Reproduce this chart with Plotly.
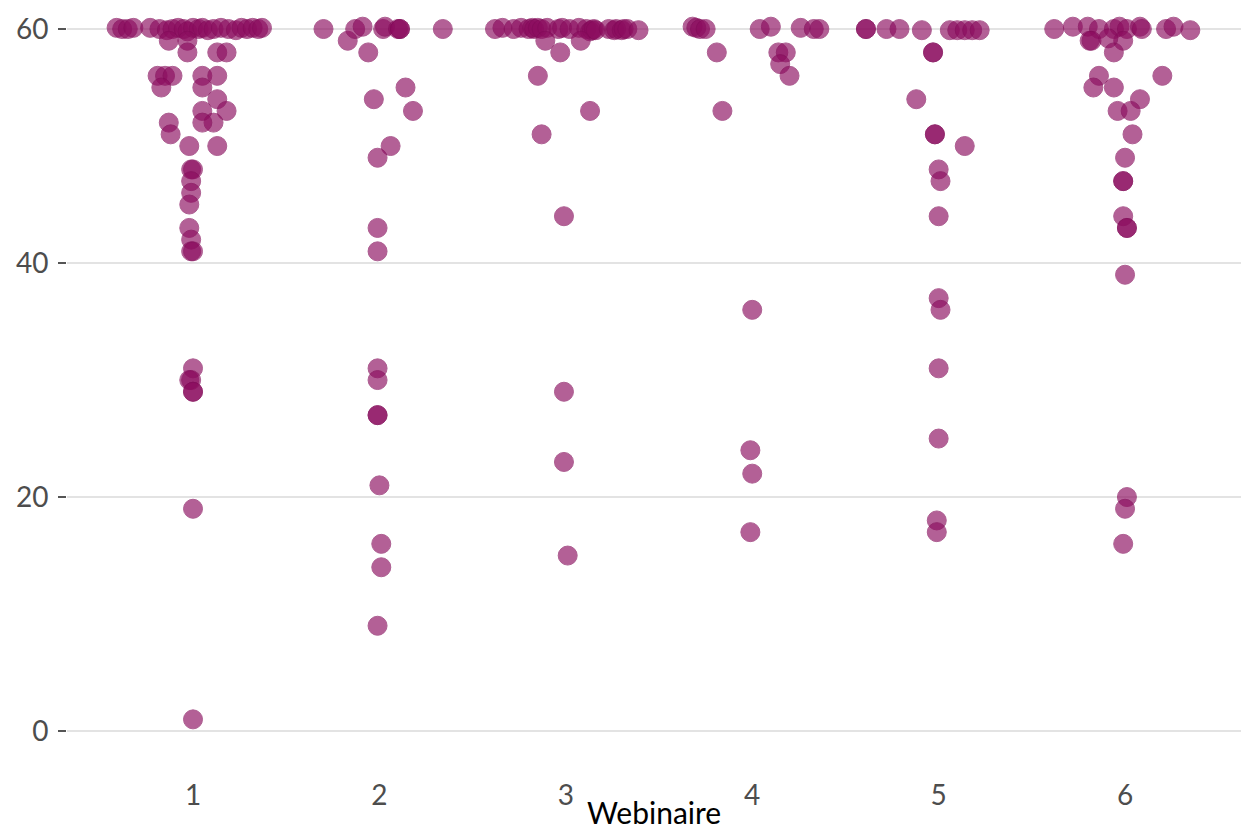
import plotly.graph_objects as go

# Webinaire 1
w1_x = [0.59, 0.62, 0.65, 0.68, 0.77, 0.82, 0.86, 0.89, 0.92, 0.95, 0.97, 1.00, 1.03, 1.05, 1.08, 1.11,
        1.15, 1.19, 1.23, 1.26, 1.29, 1.32, 1.35, 1.37,
        0.87, 0.97, 0.97, 1.13, 1.18,
        0.81, 0.85, 0.89, 0.83, 1.05, 1.13, 1.05, 1.13, 1.18, 1.05, 1.11, 1.05, 0.87, 0.88,
        0.98, 1.13, 0.99, 1.00, 0.99, 0.99, 0.98, 0.98, 0.99, 0.99, 1.00,
        1.00, 0.98, 0.99, 1.00, 1.00, 1.00, 1.00]
w1_y = [60.1, 60, 60, 60.1, 60.1, 60, 59.9, 60, 60.1, 60, 59.8, 60.1, 60, 60.1, 59.9, 60,
        60.1, 60, 59.9, 60.1, 60, 60.1, 60, 60.1,
        59, 59, 58, 58, 58,
        56, 56, 56, 55, 56, 56, 55, 54, 53, 53, 52, 52, 52, 51,
        50, 50, 48, 48, 47, 46, 45, 43, 42, 41, 41,
        31, 30, 30, 29, 29, 19, 1]

# Webinaire 2
w2_x = [1.70, 1.83, 1.87, 1.91, 2.02, 2.03, 2.10, 2.11, 2.11, 2.34, 1.94,
        2.14, 1.97, 2.18, 2.06, 1.99, 1.99, 1.99, 1.99, 1.99, 1.99, 1.99, 2.00, 2.01, 2.01, 1.99]
w2_y = [60, 59, 60, 60.2, 60, 60.2, 60, 60, 60, 60, 58,
        55, 54, 53, 50, 49, 43, 41, 31, 30, 27, 27, 21, 16, 14, 9]

# Webinaire 3
w3_x = [2.62, 2.66, 2.72, 2.76, 2.80, 2.82, 2.83, 2.85, 2.87, 2.90, 2.96, 2.98, 3.02, 3.07, 3.11,
        3.13, 3.14, 3.15, 3.16, 3.23, 3.26, 3.27, 3.30, 3.31, 3.33, 3.39,
        2.89, 2.97, 3.08, 2.85, 2.87, 3.13, 2.99, 2.99, 2.99, 3.01]
w3_y = [60, 60.1, 60, 60.1, 60, 60.1, 60, 60.1, 60, 60.1, 60, 60.1, 60, 60.1, 60,
        59.8, 59.9, 60, 59.9, 60, 59.9, 60, 59.9, 60, 60, 59.9,
        59, 58, 59, 56, 51, 53, 44, 29, 23, 15]

# Webinaire 4
w4_x = [3.68, 3.70, 3.72, 3.75, 3.81, 3.84, 4.04, 4.10, 4.26, 4.33, 4.36,
        4.14, 4.18, 4.15, 4.20, 4.00, 3.99, 4.00, 3.99]
w4_y = [60.2, 60.1, 60, 60, 58, 53, 60, 60.2, 60.1, 60, 60,
        58, 58, 57, 56, 36, 24, 22, 17]

# Webinaire 5
w5_x = [4.61, 4.61, 4.72, 4.79, 4.91, 5.06, 5.10, 5.14, 5.18, 5.22,
        4.97, 4.97, 4.88, 4.98, 4.98, 5.14, 5.00, 5.01, 5.00, 5.00, 5.01, 5.00, 5.00, 4.99, 4.99]
w5_y = [60, 60, 60, 60, 59.9, 59.9, 59.9, 59.9, 59.9, 59.9,
        58, 58, 54, 51, 51, 50, 48, 47, 44, 37, 36, 31, 25, 18, 17]

# Webinaire 6
w6_x = [5.62, 5.72, 5.80, 5.86, 5.94, 5.97, 6.01, 6.08, 6.09, 6.22, 6.26, 6.35,
        5.81, 5.82, 5.99, 5.91, 5.94,
        5.86, 5.83, 5.94, 6.20, 6.08, 5.96, 6.03, 6.04, 6.00, 5.99, 5.99, 5.99, 6.01, 6.01,
        6.00, 6.01, 6.00, 5.99]
w6_y = [60, 60.2, 60.2, 60, 60, 60.2, 60, 60.2, 60, 60, 60.2, 59.9,
        59, 59, 59, 59.2, 58,
        56, 55, 55, 56, 54, 53, 53, 51, 49, 47, 47, 44, 43, 43,
        39, 20, 19, 16]

xs = [w1_x, w2_x, w3_x, w4_x, w5_x, w6_x]
ys = [w1_y, w2_y, w3_y, w4_y, w5_y, w6_y]

x_ticks = [1, 2, 3, 4, 5, 6]
y_ticks = [0, 20, 40, 60]
x_title = "Webinaire"

all_x = [v for s in xs for v in s]
all_y = [v for s in ys for v in s]

fig = go.Figure()
fig.add_trace(go.Scatter(
    x=all_x, y=all_y, mode="markers",
    marker=dict(size=19, color="rgb(140,12,95)", opacity=0.65,
                line=dict(width=1, color="rgb(130,10,88)")),
    cliponaxis=False, hoverinfo="x+y", showlegend=False,
))

fig.update_layout(
    width=1241, height=830,
    margin=dict(l=67, r=0, t=0, b=76),
    paper_bgcolor="white", plot_bgcolor="white",
    font=dict(family="Lato", size=28, color="#4d4d4d"),
    xaxis=dict(range=[0.324, 6.622], tickmode="array", tickvals=x_ticks,
               ticktext=[str(v) for v in x_ticks], showgrid=False, zeroline=False,
               showline=False, ticks="", ticklabelstandoff=22, automargin=False),
    yaxis=dict(range=[-1.96, 62.48], tickmode="array", tickvals=y_ticks,
               ticktext=[str(v) for v in y_ticks], showgrid=True, gridcolor="#e3e3e3",
               gridwidth=2, zeroline=False, showline=False, ticks="outside", ticklen=8,
               tickwidth=2, tickcolor="#555555", ticklabelstandoff=4, automargin=False),
    annotations=[dict(text=x_title, xref="paper", yref="paper", x=0.5, y=0,
                      yshift=-58, xanchor="center", yanchor="middle", showarrow=False,
                      font=dict(family="Lato", size=30, color="black"))],
)

fig.write_html("out.html", config={"displayModeBar": False},
               post_script="document.body.style.margin='0';document.body.style.overflow='hidden';")
